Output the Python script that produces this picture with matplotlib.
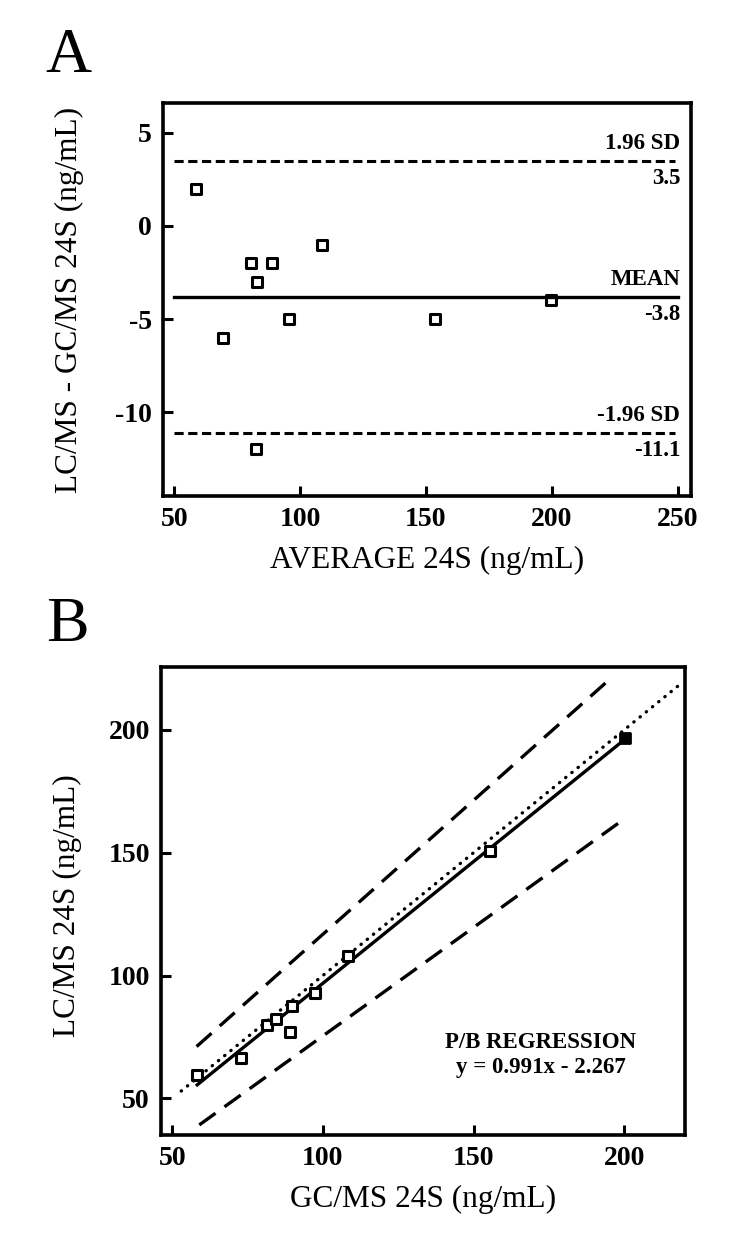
import matplotlib
matplotlib.use('Agg')
import numpy as np
import matplotlib.pyplot as plt
from matplotlib.markers import MarkerStyle

plt.rcParams['font.family'] = ['Liberation Serif', 'DejaVu Serif']
plt.rcParams['axes.unicode_minus'] = False

# Panel A: Bland-Altman
avg_24s = [58.5, 69.5, 80.5, 83, 89, 82.5, 95.5, 108.5, 153.5, 199.5]
diff_24s = [2, -6, -2, -3, -2, -12, -5, -1, -5, -4]
mean_diff = -3.8
upper_sd = 3.5
lower_sd = -11.1
ba_span = [50, 249]

# Panel B: Passing-Bablok
gc_24s = [58.3, 72.7, 81.6, 84.5, 89.7, 89.0, 97.5, 108.5, 155.4]
lc_24s = [59.6, 66.6, 79.9, 82.4, 87.8, 77.0, 93.0, 108.1, 150.7]
gc_last = [200.2]
lc_last = [196.8]
slope, intercept = 0.991, -2.267
reg_span = [58.3, 200.2]
ident_span = [53, 218]
upper_x, upper_y = [58.1, 194], [71.1, 219.3]
lower_x, lower_y = [59.0, 200.2], [39.2, 163.9]

sq = MarkerStyle('s', joinstyle='round')

fig = plt.figure(figsize=(7.5, 12.5), dpi=100)
axA = fig.add_axes([0.2173, 0.6032, 0.704, 0.3144])
axB = fig.add_axes([0.2147, 0.092, 0.6987, 0.3744])

def style_axes(ax):
    for sp in ax.spines.values():
        sp.set_linewidth(2.6)
    ax.tick_params(direction='in', length=7, width=2.2, labelsize=20, pad=8)
    for lab in ax.get_xticklabels() + ax.get_yticklabels():
        lab.set_fontweight('bold')

# ---- A ----
axA.plot(avg_24s, diff_24s, ls='none', marker=sq, ms=6.5, mfc='white',
         mec='black', mew=2.2)
axA.plot(ba_span, [upper_sd, upper_sd], color='black', lw=2.2, dashes=(3.0, 1.5))
axA.plot(ba_span, [lower_sd, lower_sd], color='black', lw=2.2, dashes=(3.0, 1.5))
axA.plot([50, 250], [mean_diff, mean_diff], color='black', lw=2.4)
axA.set_xlim(45.5, 255.3)
axA.set_ylim(-14.5, 6.6)
axA.set_xticks([50, 100, 150, 200, 250])
axA.set_yticks([5, 0, -5, -10])
style_axes(axA)
axA.set_xlabel('AVERAGE 24S (ng/mL)', fontsize=22.5, labelpad=10)
axA.set_ylabel('LC/MS - GC/MS 24S (ng/mL)', fontsize=22.5, labelpad=12)

for val, top, bottom in [(upper_sd, '1.96 SD', '3.5'),
                         (mean_diff, 'MEAN', '-3.8'),
                         (lower_sd, '-1.96 SD', '-11.1')]:
    axA.annotate(top, (251, val), xytext=(0, 5), textcoords='offset points',
                 ha='right', va='bottom', fontsize=16.5, fontweight='bold')
    axA.annotate(bottom, (251, val), xytext=(0, -5), textcoords='offset points',
                 ha='right', va='top', fontsize=16.5, fontweight='bold')

# ---- B ----
xr = np.array(reg_span)
axB.plot(xr, slope * xr + intercept, color='black', lw=2.4)
axB.plot(ident_span, ident_span, color='black', lw=2.4,
         linestyle=(0, (0.1, 2.3)), dash_capstyle='round')
axB.plot(upper_x, upper_y, color='black', lw=2.4, dashes=(6.0, 3.3))
axB.plot(lower_x, lower_y, color='black', lw=2.4, dashes=(6.0, 3.3))
axB.plot(gc_24s, lc_24s, ls='none', marker=sq, ms=6.5, mfc='white',
         mec='black', mew=2.2)
axB.plot(gc_last, lc_last, ls='none', marker=sq, ms=7, mfc='black',
         mec='black', mew=2)
axB.set_xlim(46.3, 220.2)
axB.set_ylim(35.1, 225.6)
axB.set_xticks([50, 100, 150, 200])
axB.set_yticks([50, 100, 150, 200])
style_axes(axB)
axB.set_xlabel('GC/MS 24S (ng/mL)', fontsize=22.5, labelpad=10)
axB.set_ylabel('LC/MS 24S (ng/mL)', fontsize=22.5, labelpad=12)
axB.text(0.725, 0.197, 'P/B REGRESSION', transform=axB.transAxes,
         ha='center', va='center', fontsize=16.5, fontweight='bold')
axB.text(0.725, 0.145, 'y = 0.991x - 2.267', transform=axB.transAxes,
         ha='center', va='center', fontsize=16.5, fontweight='bold')

axA.yaxis.set_label_coords(-0.15, 0.5)
axB.yaxis.set_label_coords(-0.15, 0.49)

fig.text(0.061, 0.942, 'A', fontsize=46, ha='left', va='baseline')
fig.text(0.061, 0.4875, 'B', fontsize=46, ha='left', va='baseline')

plt.savefig('out.png', dpi=100)
